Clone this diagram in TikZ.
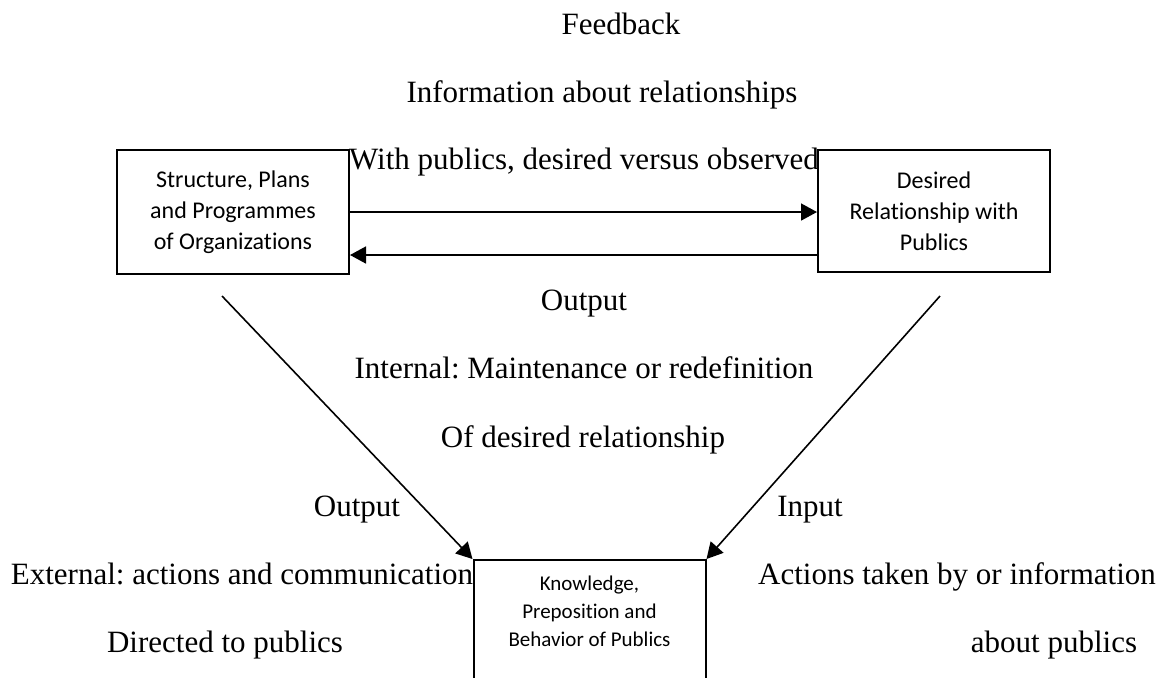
\documentclass[tikz,border=0pt]{standalone}
\usepackage{fontspec}
\setmainfont{Liberation Serif}
\newfontfamily\boxfont[Ligatures=NoCommon]{Carlito}
\usepackage{tikz}
\usetikzlibrary{arrows.meta}
\frenchspacing

\tikzset{
	orgbox/.style={draw,line width=1pt,minimum width=116pt,align=center,font=\boxfont\fontsize{12}{15.5}\selectfont},
	flowtext/.style={anchor=base,inner sep=0pt,font=\fontsize{15.5}{18}\selectfont},
	flow/.style={line width=0.8pt,-{Triangle[length=8pt,width=8.5pt]}}
}

\begin{document}
\begin{tikzpicture}[x=0.5pt,y=-0.5pt]
			\useasboundingbox (0,0) rectangle (1160,677);
			\clip (0,0) rectangle (1160,677);
			
			\node[orgbox,minimum height=62pt] (org) at (233,212) {Structure, Plans\\and Programmes\\of Organizations};
			\node[orgbox,minimum height=61pt] (rel) at (934,211) {Desired\\Relationship with\\Publics};
			\node[orgbox,minimum height=70pt,anchor=north] (pub) at (589.5,559) {};
			\node[orgbox,draw=none,font=\boxfont\fontsize{10.5}{14}\selectfont] (pubtext) at (589.5,611) {Knowledge,\\Preposition and\\Behavior of Publics};
			
			\coordinate (orgout) at (222,296);
			\coordinate (relout) at (940,296);
			\draw[flow] (org.east) -- (org.east -| rel.west);
			\draw[flow] ([yshift=-22pt]rel.west) -- ([yshift=-22pt]rel.west -| org.east);
			\draw[flow] (orgout) -- (pub.north west);
			\draw[flow] (relout) -- (pub.north east);
			
			\node[flowtext] (fb) at (621,34) {Feedback};
			\node[flowtext] (fbinfo) at (602,102) {Information about relationships};
			\node[flowtext] (fbpub) at (584,169) {With publics, desired versus observed};
			\node[flowtext] (outint) at (584,310) {Output};
			\node[flowtext] (outmaint) at (584,378) {Internal: Maintenance or redefinition};
			\node[flowtext] (outrel) at (583,447) {Of desired relationship};
			\node[flowtext] (outext) at (357,516) {Output};
			\node[flowtext] (inp) at (810,516) {Input};
			\node[flowtext] (extact) at (242,584) {External: actions and communication};
			\node[flowtext] (extdir) at (225,652) {Directed to publics};
			\node[flowtext] (inact) at (957,584) {Actions taken by or information};
			\node[flowtext] (inabout) at (1054,652) {about publics};
		\end{tikzpicture}
\end{document}
